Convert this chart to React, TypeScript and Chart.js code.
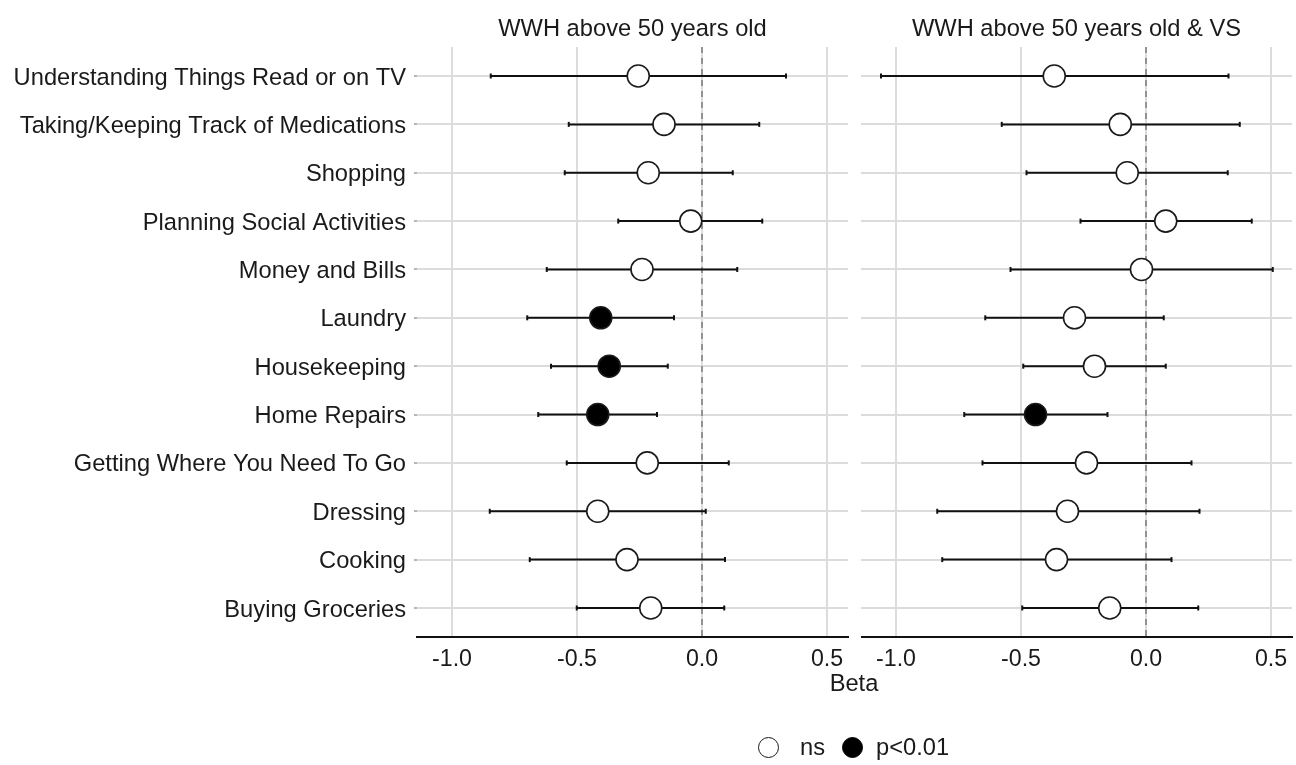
import React, { useEffect, useRef } from "react";
import { Chart, registerables } from "chart.js";

Chart.register(...registerables);

// ---------- data ----------
const CATEGORIES = [
  "Understanding Things Read or on TV",
  "Taking/Keeping Track of Medications",
  "Shopping",
  "Planning Social Activities",
  "Money and Bills",
  "Laundry",
  "Housekeeping",
  "Home Repairs",
  "Getting Where You Need To Go",
  "Dressing",
  "Cooking",
  "Buying Groceries",
];

const PANEL_TITLES = ["WWH above 50 years old", "WWH above 50 years old & VS"];

const LEFT_BETA = [-0.255, -0.152, -0.215, -0.045, -0.24, -0.405, -0.371, -0.417, -0.219, -0.417, -0.3, -0.205];
const LEFT_LOW = [-0.845, -0.533, -0.549, -0.335, -0.621, -0.699, -0.604, -0.655, -0.541, -0.849, -0.689, -0.501];
const LEFT_HIGH = [0.336, 0.229, 0.123, 0.241, 0.141, -0.112, -0.137, -0.18, 0.107, 0.015, 0.092, 0.089];
const LEFT_SIG = [false, false, false, false, false, true, true, true, false, false, false, false];

const RIGHT_BETA = [-0.367, -0.103, -0.075, 0.079, -0.018, -0.286, -0.206, -0.442, -0.238, -0.314, -0.358, -0.145];
const RIGHT_LOW = [-1.06, -0.577, -0.478, -0.262, -0.542, -0.643, -0.491, -0.727, -0.654, -0.835, -0.815, -0.495];
const RIGHT_HIGH = [0.33, 0.375, 0.327, 0.423, 0.507, 0.071, 0.079, -0.154, 0.182, 0.214, 0.102, 0.209];
const RIGHT_SIG = [false, false, false, false, false, false, false, true, false, false, false, false];

const X_TICKS = [-1.0, -0.5, 0.0, 0.5];
const X_MIN = -1.14;
const X_MAX = 0.584;
const Y_MIN = -0.6;
const Y_MAX = CATEGORIES.length - 1 + 0.6;
const REF_LINE = 0;
const X_TITLE = "Beta";
const LEGEND_LABELS = ["ns", "p<0.01"];

// ---------- style ----------
const FONT_FAMILY = "'Liberation Sans', Arial, Helvetica, sans-serif";
const LABEL_SIZE = 23.7;
const TICK_SIZE = 23.2;
const TEXT_COLOR = "#1a1a1a";
const GRID_COLOR = "#dcdcdc";

type PanelProps = {
  title: string;
  beta: number[];
  low: number[];
  high: number[];
  sig: boolean[];
  showLabels: boolean;
  left: number;
  width: number;
  height: number;
  padRight: number;
};

function Panel({ title, beta, low, high, sig, showLabels, left, width, height, padRight }: PanelProps) {
  const ref = useRef<HTMLCanvasElement>(null);

  useEffect(() => {
    const rows = CATEGORIES.map((_, i) => i);
    const ciData = rows.flatMap((i) => [
      { x: low[i], y: i },
      { x: high[i], y: i },
      { x: REF_LINE, y: null as any },
    ]);
    const capData = rows.flatMap((i) => [
      { x: low[i], y: i },
      { x: high[i], y: i },
    ]);
    const pointData = rows.map((i) => ({ x: beta[i], y: i }));
    const labelFont = { family: FONT_FAMILY, size: LABEL_SIZE };
    const tickFont = { family: FONT_FAMILY, size: TICK_SIZE };

    const chart = new Chart(ref.current as HTMLCanvasElement, {
      type: "scatter",
      data: {
        datasets: [
          {
            type: "scatter",
            label: "estimate",
            data: pointData,
            pointRadius: 11,
            pointHoverRadius: 11,
            pointBackgroundColor: sig.map((s) => (s ? "#000000" : "#ffffff")),
            pointBorderColor: "#1a1a1a",
            pointBorderWidth: 1.6,
            order: 0,
            xAxisID: "x",
            yAxisID: "y",
          },
          {
            type: "scatter",
            label: "caps",
            data: capData,
            pointStyle: "line",
            rotation: 90,
            pointRadius: 2.5,
            pointBorderColor: "#111111",
            pointBorderWidth: 2,
            order: 1,
            xAxisID: "x",
            yAxisID: "y",
          } as any,
          {
            type: "line",
            label: "ci",
            data: ciData,
            borderColor: "#111111",
            borderWidth: 2,
            pointRadius: 0,
            spanGaps: false,
            order: 2,
            xAxisID: "x",
            yAxisID: "y",
          },
          {
            type: "line",
            label: "zero",
            data: [
              { x: REF_LINE, y: Y_MIN },
              { x: REF_LINE, y: Y_MAX },
            ],
            borderColor: "#7a7a7a",
            borderWidth: 1.5,
            borderDash: [6, 5],
            pointRadius: 0,
            order: 3,
            xAxisID: "x",
            yAxisID: "y",
          },
        ],
      },
      options: {
        animation: false,
        responsive: false,
        events: [],
        layout: { autoPadding: false, padding: { left: 0, right: padRight, top: 0, bottom: 0 } },
        plugins: { legend: { display: false }, tooltip: { enabled: false }, title: { display: false } },
        scales: {
          x: {
            type: "linear",
            position: "bottom",
            min: X_MIN,
            max: X_MAX,
            afterBuildTicks: (s: any) => {
              s.ticks = X_TICKS.map((v) => ({ value: v }));
            },
            afterFit: (s: any) => {
              s.height = height - 637;
              s.paddingLeft = 0;
              s.paddingRight = 0;
            },
            ticks: {
              autoSkip: false,
              maxRotation: 0,
              padding: 9,
              font: tickFont,
              color: TEXT_COLOR,
              callback: (v: any) => Number(v).toFixed(1),
            },
            grid: { color: GRID_COLOR, lineWidth: 2, drawTicks: false },
            border: { display: true, color: "#111111", width: 2 },
          },
          xt: {
            type: "linear",
            position: "top",
            min: X_MIN,
            max: X_MAX,
            afterFit: (s: any) => {
              s.height = 47;
              s.paddingLeft = 0;
              s.paddingRight = 0;
            },
            ticks: { display: false },
            grid: { display: false, drawTicks: false },
            border: { display: false },
            title: {
              display: true,
              text: title,
              font: labelFont,
              color: TEXT_COLOR,
              padding: { top: 15, bottom: 0 },
            },
          },
          y: {
            type: "linear",
            reverse: true,
            min: Y_MIN,
            max: Y_MAX,
            afterBuildTicks: (s: any) => {
              s.ticks = CATEGORIES.map((_, i) => ({ value: i }));
            },
            afterFit: (s: any) => {
              s.width = showLabels ? 417 : 0;
              s.paddingTop = 0;
              s.paddingBottom = 0;
            },
            ticks: {
              display: showLabels,
              autoSkip: false,
              padding: 8,
              labelOffset: 2,
              font: labelFont,
              color: TEXT_COLOR,
              callback: (v: any) => CATEGORIES[Math.round(Number(v))],
            },
            grid: {
              color: GRID_COLOR,
              lineWidth: 2,
              drawTicks: showLabels,
              tickLength: 3,
              tickColor: "#b5b5b5",
            },
            border: { display: false },
          },
        },
      } as any,
    });
    return () => chart.destroy();
  }, []);

  return (
    <canvas
      ref={ref}
      width={width}
      height={height}
      style={{ position: "absolute", left, top: 0, width, height }}
    />
  );
}

const textStyle: React.CSSProperties = {
  position: "absolute",
  fontFamily: FONT_FAMILY,
  fontSize: LABEL_SIZE,
  color: TEXT_COLOR,
  lineHeight: 1,
  whiteSpace: "nowrap",
};

export default function App() {
  const H = 700;
  return (
    <div
      style={{
        position: "absolute",
        left: 0,
        top: 0,
        width: 1296,
        height: 765,
        background: "#ffffff",
        overflow: "hidden",
      }}
    >
      <Panel
        title={PANEL_TITLES[0]}
        beta={LEFT_BETA}
        low={LEFT_LOW}
        high={LEFT_HIGH}
        sig={LEFT_SIG}
        showLabels={true}
        left={0}
        width={850}
        height={H}
        padRight={2}
      />
      <Panel
        title={PANEL_TITLES[1]}
        beta={RIGHT_BETA}
        low={RIGHT_LOW}
        high={RIGHT_HIGH}
        sig={RIGHT_SIG}
        showLabels={false}
        left={861}
        width={435}
        height={H}
        padRight={4}
      />
      <div style={{ ...textStyle, left: 854, top: 684, transform: "translate(-50%, -50%)" }}>{X_TITLE}</div>
      {/* legend */}
      <div
        style={{
          position: "absolute",
          left: 758,
          top: 737,
          width: 19,
          height: 19,
          borderRadius: "50%",
          border: "1.6px solid #1a1a1a",
          background: "#fff",
        }}
      />
      <div style={{ ...textStyle, left: 800, top: 748, transform: "translateY(-50%)" }}>{LEGEND_LABELS[0]}</div>
      <div
        style={{
          position: "absolute",
          left: 842,
          top: 737,
          width: 19,
          height: 19,
          borderRadius: "50%",
          border: "1.6px solid #000",
          background: "#000",
        }}
      />
      <div style={{ ...textStyle, left: 876, top: 748, transform: "translateY(-50%)" }}>{LEGEND_LABELS[1]}</div>
    </div>
  );
}
